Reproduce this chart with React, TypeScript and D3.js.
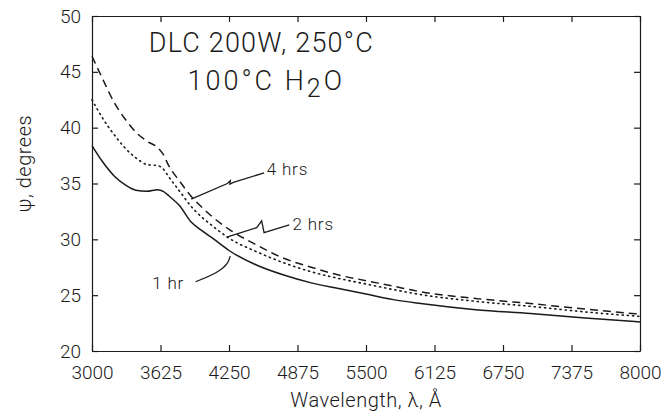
import React, { useEffect, useRef } from "react";
import * as d3 from "d3";

// wavelength (Å) samples
const wavelengths = [3000, 3100, 3200, 3300, 3400, 3500, 3600, 3650, 3700, 3800, 3900, 4000, 4100, 4250, 4500, 4750, 5000, 5250, 5500, 5750, 6000, 6500, 7000, 7500, 8000];
const psi1hr = [38.4, 36.9, 35.7, 34.9, 34.4, 34.3, 34.45, 34.3, 33.9, 33.0, 31.6, 30.8, 30.1, 29.0, 27.7, 26.8, 26.1, 25.6, 25.1, 24.6, 24.25, 23.7, 23.35, 22.95, 22.6];
const psi2hrs = [42.5, 40.8, 39.4, 38.2, 37.3, 36.7, 36.6, 36.3, 35.6, 34.3, 33.0, 32.0, 31.2, 30.1, 28.9, 27.9, 27.1, 26.5, 26.0, 25.5, 25.05, 24.45, 24.0, 23.5, 23.1];
const psi4hrs = [46.4, 44.3, 42.3, 40.8, 39.6, 38.8, 38.2, 37.6, 36.6, 35.2, 33.9, 32.9, 32.0, 30.9, 29.5, 28.3, 27.5, 26.8, 26.3, 25.8, 25.3, 24.7, 24.25, 23.75, 23.3];

const xTicks = [3000, 3625, 4250, 4875, 5500, 6125, 6750, 7375, 8000];
const yTicks = [20, 25, 30, 35, 40, 45, 50];

// annotation leaders, in data units (wavelength, psi)
const leader4hrs: [number, number][] = [[3905, 33.6], [4235, 35.0], [4262, 35.25], [4258, 34.95], [4290, 35.1], [4570, 35.95]];
const leader2hrs: [number, number][] = [[4229, 30.2], [4503, 31.05], [4548, 31.65], [4570, 30.6], [4800, 31.3]];
const leader1hr: [number, number][] = [[3945, 26.2], [4145, 27.1], [4230, 27.8], [4262, 28.5]];

const W = 664;
const H = 418;
const font = "Roboto, 'Liberation Sans', Arial, sans-serif";

export default function App() {
  const ref = useRef<SVGSVGElement>(null);

  useEffect(() => {
    const svg = d3.select(ref.current);
    svg.selectAll("*").remove();

    const x = d3.scaleLinear().domain([3000, 8000]).range([92, 640]);
    const y = d3.scaleLinear().domain([20, 50]).range([351, 16]);

    const ink = "#1a1a1a";

    // frame + inward ticks
    const bottom = svg.append("g").attr("transform", `translate(0,${y(20)})`)
      .call(d3.axisBottom(x).tickValues(xTicks).tickSize(-6).tickSizeOuter(0).tickPadding(15).tickFormat(d3.format("d")));
    const left = svg.append("g").attr("transform", `translate(${x(3000)},0)`)
      .call(d3.axisLeft(y).tickValues(yTicks).tickSize(-6).tickSizeOuter(0).tickPadding(11));
    const top = svg.append("g").attr("transform", `translate(0,${y(50)})`)
      .call(d3.axisTop(x).tickValues(xTicks).tickSize(-6).tickSizeOuter(0).tickFormat(() => ""));
    const right = svg.append("g").attr("transform", `translate(${x(8000)},0)`)
      .call(d3.axisRight(y).tickValues(yTicks).tickSize(-6).tickSizeOuter(0).tickFormat(() => ""));

    [bottom, left, top, right].forEach(g => {
      g.selectAll("path, line").attr("stroke", ink).attr("stroke-width", 1.2);
      g.selectAll("text").attr("fill", ink).style("font-family", font).style("font-weight", 300).style("font-size", "19px");
    });

    const line = d3.line<number>()
      .x((_, i) => x(wavelengths[i]))
      .y(d => y(d))
      .curve(d3.curveMonotoneX);

    svg.append("path").datum(psi1hr).attr("d", line).attr("fill", "none")
      .attr("stroke", ink).attr("stroke-width", 1.5);
    svg.append("path").datum(psi2hrs).attr("d", line).attr("fill", "none")
      .attr("stroke", ink).attr("stroke-width", 1.6).attr("stroke-dasharray", "1.2,4").attr("stroke-linecap", "round");
    svg.append("path").datum(psi4hrs).attr("d", line).attr("fill", "none")
      .attr("stroke", ink).attr("stroke-width", 1.5).attr("stroke-dasharray", "8,5");

    // leaders
    const lead = d3.line<[number, number]>().x(d => x(d[0])).y(d => y(d[1]));
    svg.append("path").attr("d", lead(leader4hrs)).attr("fill", "none").attr("stroke", ink).attr("stroke-width", 1.3);
    svg.append("path").attr("d", lead(leader2hrs)).attr("fill", "none").attr("stroke", ink).attr("stroke-width", 1.3);
    svg.append("path").attr("d", lead.curve(d3.curveCatmullRom)(leader1hr)).attr("fill", "none").attr("stroke", ink).attr("stroke-width", 1.3);

    const txt = (wl: number, v: number, s: string, size: number) =>
      svg.append("text").attr("x", x(wl)).attr("y", y(v)).attr("fill", ink)
        .style("font-family", font).style("font-weight", 300).style("font-size", `${size}px`)
        .style("letter-spacing", "0.8px").text(s);

    txt(4595, 35.75, "4 hrs", 17);
    txt(4830, 30.85, "2 hrs", 17);
    txt(3550, 25.55, "1 hr", 17);

    // title block
    svg.append("text").attr("x", x(4545)).attr("y", y(46.75)).attr("text-anchor", "middle").attr("fill", ink)
      .style("font-family", font).style("font-weight", 300).style("font-size", "27px").style("letter-spacing", "1.2px")
      .text("DLC 200W, 250°C");
    const t2 = svg.append("text").attr("x", x(4590)).attr("y", y(43.4)).attr("text-anchor", "middle").attr("fill", ink)
      .style("font-family", font).style("font-weight", 300).style("font-size", "27px").style("letter-spacing", "3px");
    t2.append("tspan").text("100°C H");
    t2.append("tspan").attr("dy", 7).style("font-size", "25px").text("2");
    t2.append("tspan").attr("dy", -7).text("O");

    // axis titles
    svg.append("text").attr("x", (x(3000) + x(8000)) / 2).attr("y", 407).attr("text-anchor", "middle").attr("fill", ink)
      .style("font-family", font).style("font-weight", 300).style("font-size", "20px").style("letter-spacing", "0.5px")
      .text("Wavelength, λ, Å");
    svg.append("text").attr("transform", `translate(31,${y(35) - 20}) rotate(-90)`).attr("text-anchor", "middle").attr("fill", ink)
      .style("font-family", font).style("font-weight", 300).style("font-size", "20px").style("letter-spacing", "0.5px")
      .text("ψ, degrees");
  }, []);

  return (
    <svg ref={ref} width={W} height={H} style={{ position: "absolute", left: 0, top: 0, background: "#fff" }} />
  );
}
